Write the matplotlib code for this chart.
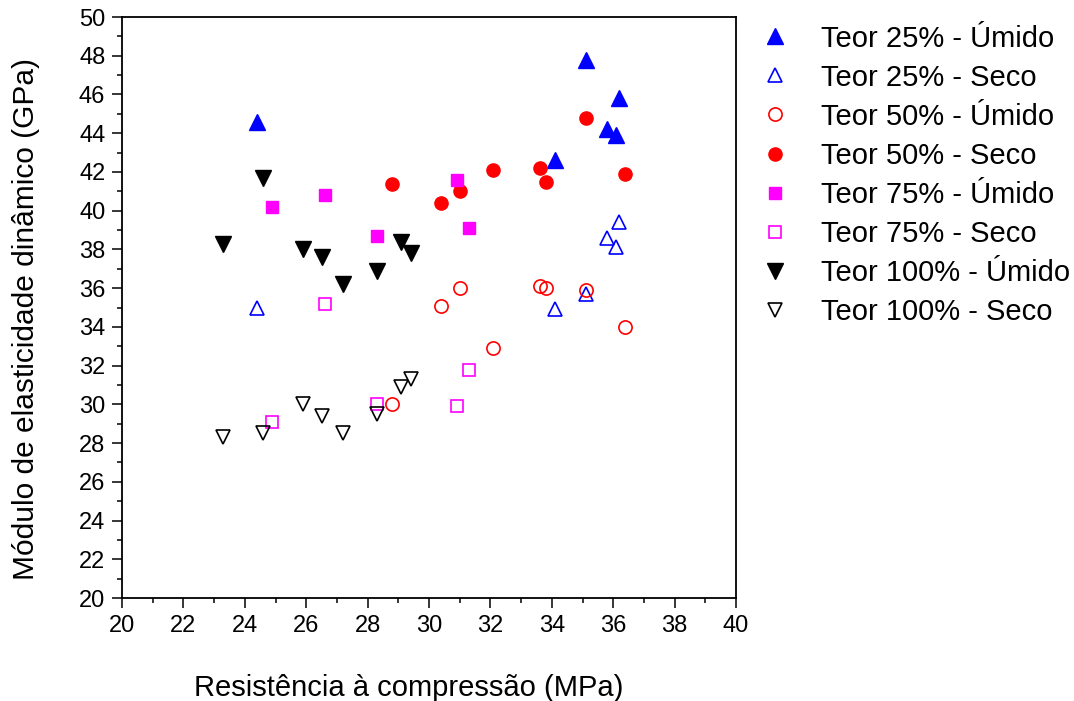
import matplotlib.pyplot as plt
from matplotlib.ticker import MultipleLocator

plt.rcParams['font.family'] = ['Liberation Sans', 'DejaVu Sans']

# Teor 25%
t25_umido_x = [24.4, 34.1, 35.1, 35.8, 36.1, 36.2]
t25_umido_y = [44.6, 42.6, 47.8, 44.2, 43.9, 45.8]
t25_seco_x = [24.4, 34.1, 35.1, 35.8, 36.1, 36.2]
t25_seco_y = [35.0, 34.9, 35.7, 38.6, 38.1, 39.4]

# Teor 50%
t50_umido_x = [28.8, 30.4, 31.0, 32.1, 33.6, 33.8, 35.1, 36.4]
t50_umido_y = [30.0, 35.1, 36.0, 32.9, 36.1, 36.0, 35.9, 34.0]
t50_seco_x = [28.8, 30.4, 31.0, 32.1, 33.6, 33.8, 35.1, 36.4]
t50_seco_y = [41.4, 40.4, 41.0, 42.1, 42.2, 41.5, 44.8, 41.9]

# Teor 75%
t75_umido_x = [24.9, 26.6, 28.3, 30.9, 31.3]
t75_umido_y = [40.2, 40.8, 38.7, 41.6, 39.1]
t75_seco_x = [24.9, 26.6, 28.3, 30.9, 31.3]
t75_seco_y = [29.1, 35.2, 30.0, 29.9, 31.8]

# Teor 100%
t100_umido_x = [23.3, 24.6, 25.9, 26.5, 27.2, 28.3, 29.1, 29.4]
t100_umido_y = [38.3, 41.7, 38.0, 37.6, 36.2, 36.9, 38.4, 37.8]
t100_seco_x = [23.3, 24.6, 25.9, 26.5, 27.2, 28.3, 29.1, 29.4]
t100_seco_y = [28.3, 28.5, 30.0, 29.4, 28.5, 29.5, 30.9, 31.3]

fig = plt.figure(figsize=(10.74, 7.01), dpi=100)
ax = fig.add_axes([0.1136, 0.1469, 0.5717, 0.8288])

lw_open = 1.2

ax.plot(t25_umido_x, t25_umido_y, '^', color='#0000ff', ms=11, ls='none',
        label='Teor 25% - Úmido')
ax.plot(t25_seco_x, t25_seco_y, '^', color='#0000ff', mfc='none', ms=10.5,
        mew=lw_open, ls='none', label='Teor 25% - Seco')
ax.plot(t50_umido_x, t50_umido_y, 'o', color='#ff0000', mfc='none', ms=9.5,
        mew=lw_open, ls='none', label='Teor 50% - Úmido')
ax.plot(t50_seco_x, t50_seco_y, 'o', color='#ff0000', ms=9.5, ls='none',
        label='Teor 50% - Seco')
ax.plot(t75_umido_x, t75_umido_y, 's', color='#ff00ff', ms=8.5, ls='none',
        label='Teor 75% - Úmido')
ax.plot(t75_seco_x, t75_seco_y, 's', color='#ff00ff', mfc='none', ms=8.5,
        mew=lw_open, ls='none', label='Teor 75% - Seco')
ax.plot(t100_umido_x, t100_umido_y, 'v', color='black', ms=11, ls='none',
        label='Teor 100% - Úmido')
ax.plot(t100_seco_x, t100_seco_y, 'v', color='black', mfc='none', ms=10.5,
        mew=lw_open, ls='none', label='Teor 100% - Seco')

ax.set_xlim(20, 40)
ax.set_ylim(20, 50)
ax.xaxis.set_major_locator(MultipleLocator(2))
ax.xaxis.set_minor_locator(MultipleLocator(1))
ax.yaxis.set_major_locator(MultipleLocator(2))
ax.yaxis.set_minor_locator(MultipleLocator(1))

ax.tick_params(which='major', direction='out', length=7, width=1.1,
               labelsize=17, pad=5)
ax.tick_params(which='minor', direction='out', length=3.5, width=1.1)
for s in ax.spines.values():
    s.set_linewidth(1.3)

ax.set_xlabel('Resistência à compressão (MPa)', fontsize=21, labelpad=27,
              x=0.467)
ax.set_ylabel('Módulo de elasticidade dinâmico (GPa)', fontsize=21.5,
              labelpad=28, y=0.48)

fig.legend(loc='upper left', bbox_to_anchor=(0.694, 0.965), frameon=False,
           fontsize=21, borderpad=0, borderaxespad=0, numpoints=1,
           handletextpad=0.6, labelspacing=0.38)

plt.savefig('out.png', dpi=100)
